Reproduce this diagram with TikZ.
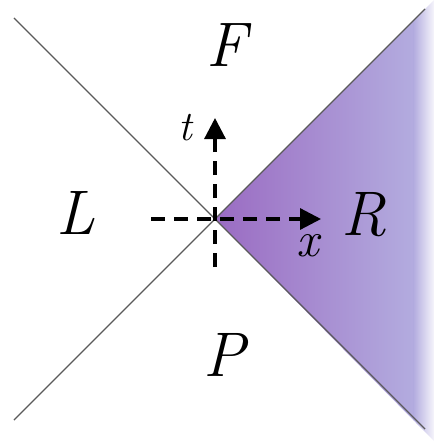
\documentclass[tikz,border=0pt]{standalone}
\usepackage{fontspec}
\usetikzlibrary{arrows.meta}
\definecolor{wedgeL}{HTML}{9A6BC2}
\definecolor{wedgeR}{HTML}{B3ACDF}
\definecolor{lineC}{HTML}{5A5A5A}
\tikzset{
  cone/.style={draw=lineC, line width=1.4pt},
  axisarrow/.style={line width=3.2pt, dash pattern=on 14pt off 9pt, -{Triangle[length=21pt,width=21pt]}},
  biglabel/.style={inner sep=0pt, font=\fontsize{63}{70}\selectfont\itshape},
}
\begin{document}
\begin{tikzpicture}[x=1pt,y=-1pt]
\useasboundingbox (0,0) rectangle (433,441);
\fill[white] (0,0) rectangle (433,441);
\coordinate (O) at (215,219);
\coordinate (TL) at (14,18);
\coordinate (BL) at (14,420);
\coordinate (TR) at (425,9);
\coordinate (BR) at (425,429);
\begin{scope}
  \clip (O) -- (434,0) -- (434,441) -- cycle;
  \shade[left color=wedgeL, right color=wedgeR] (215,-1) rectangle (414,442);
  \shade[left color=wedgeR, right color=wedgeR!12] (413.5,-1) rectangle (434,442);
\end{scope}
\draw[cone] (TL) -- (O) -- (BR);
\draw[cone] (BL) -- (O) -- (TR);
\coordinate (xs) at (151,219);
\coordinate (xe) at (321,219);
\coordinate (ts) at (215,267);
\coordinate (te) at (215,118);
\draw[axisarrow] (xs) -- (xe);
\draw[axisarrow] (ts) -- (te);
\node[biglabel] (F) at (227,45) {F};
\node[biglabel] (L) at (76,213) {L};
\node[biglabel] (R) at (364,215) {R};
\node[biglabel] (P) at (224,355) {P};
\node[inner sep=0pt, font=\fontsize{42}{48}\selectfont\itshape] (t) at (185,128) {t};
\node[inner sep=0pt, font=\fontsize{50}{56}\selectfont\itshape] (x) at (308,246) {x};
\end{tikzpicture}
\end{document}
